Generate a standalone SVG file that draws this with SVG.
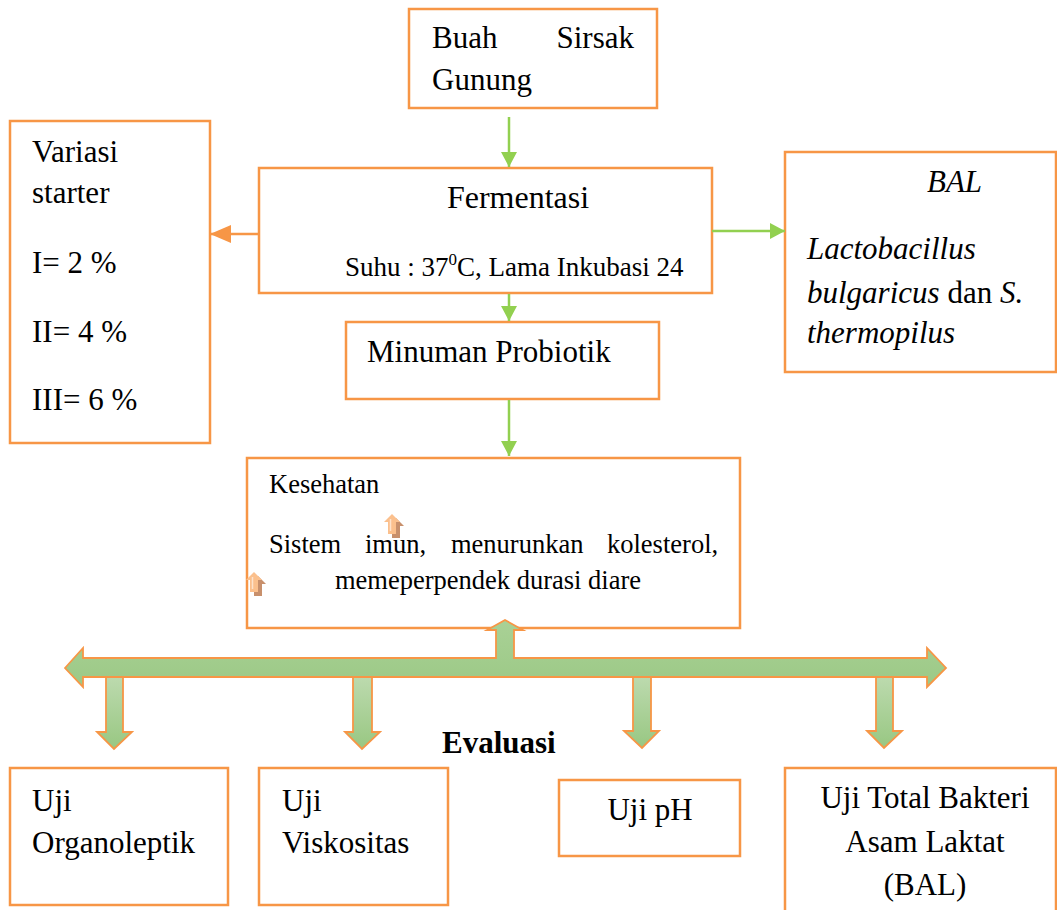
<svg xmlns="http://www.w3.org/2000/svg" width="1057" height="910" viewBox="0 0 1057 910">
<style>
.box{fill:#fff;stroke:#f79646;stroke-width:2.5}
.t{font-family:"Liberation Serif","Times New Roman",serif;font-size:31px;fill:#000}
.s{font-size:26.5px}
.i{font-style:italic}
.g{stroke:#92d050;stroke-width:2.5;fill:none}
.o{stroke:#f79646;stroke-width:2.5;fill:none}
.big{fill:url(#gh);stroke:#f79646;stroke-width:1.8;stroke-linejoin:miter}
.dn{fill:url(#gv);stroke:#f79646;stroke-width:1.8}
</style>
<defs>
<marker id="ag" markerUnits="userSpaceOnUse" markerWidth="16" markerHeight="16" refX="15" refY="8" orient="auto"><path d="M0,0 L15,8 L0,16 Z" fill="#92d050"/></marker>
<marker id="ao" markerUnits="userSpaceOnUse" markerWidth="22" markerHeight="18" refX="21" refY="9" orient="auto"><path d="M0,0 L21,9 L0,18 Z" fill="#f79646"/></marker>
<linearGradient id="gh" x1="0" y1="0" x2="0" y2="1"><stop offset="0" stop-color="#a9d196"/><stop offset="1" stop-color="#9cc986"/></linearGradient>
<linearGradient id="gv" x1="0" y1="0" x2="0" y2="1"><stop offset="0" stop-color="#bcdaae"/><stop offset="1" stop-color="#98c782"/></linearGradient>
<g id="ic"><path d="M4,4 l8,-8 l8,8 h-4 v12 h-8 v-12 z" fill="#c8906c"/><path d="M0,0 l8,-8 l8,8 h-4 v12 h-8 v-12 z" fill="#fbc08d"/><path d="M6.5,-3 v12" stroke="#fde3cc" stroke-width="1.5"/></g>
</defs>

<g id="buah">
<rect class="box" x="409" y="9" width="248" height="99"/>
<text class="t" x="432" y="48">Buah</text>
<text class="t" x="634" y="48" text-anchor="end">Sirsak</text>
<text class="t" x="432" y="90">Gunung</text>
</g>

<g id="fermentasi">
<rect class="box" x="259" y="168" width="453" height="125"/>
<text class="t" x="518" y="208" text-anchor="middle" style="font-size:32px">Fermentasi</text>
<text class="t" x="345" y="276" style="font-size:27px">Suhu : 37<tspan dy="-11" style="font-size:17px">0</tspan><tspan dy="11">C, Lama Inkubasi 24</tspan></text>
</g>

<g id="variasi">
<rect class="box" x="10" y="121" width="200" height="322"/>
<text class="t" x="32" y="162">Variasi</text>
<text class="t" x="32" y="203">starter</text>
<text class="t" x="32" y="273">I= 2 %</text>
<text class="t" x="32" y="342">II= 4 %</text>
<text class="t" x="32" y="410">III= 6 %</text>
</g>

<g id="bal">
<rect class="box" x="785" y="152" width="271" height="220"/>
<text class="t i" x="927" y="192">BAL</text>
<text class="t i" x="807" y="259">Lactobacillus</text>
<text class="t" x="807" y="303"><tspan class="i">bulgaricus</tspan> dan <tspan class="i">S.</tspan></text>
<text class="t i" x="807" y="343">thermopilus</text>
</g>

<g id="minuman">
<rect class="box" x="346" y="322" width="313" height="77"/>
<text class="t" x="367" y="362">Minuman Probiotik</text>
</g>

<g id="kesehatan">
<rect class="box" x="247" y="458" width="493" height="170"/>
<text class="t s" x="269" y="493">Kesehatan</text>
<text class="t s" y="553"><tspan x="269">Sistem</tspan><tspan x="365">imun,</tspan><tspan x="451">menurunkan</tspan><tspan x="607">kolesterol,</tspan></text>
<text class="t s" x="488" y="589" text-anchor="middle">memeperpendek durasi diare</text>
<use href="#ic" x="384" y="522"/>
<use href="#ic" x="246" y="580"/>
</g>

<g id="evaluasi">
<text class="t" x="442" y="753" style="font-weight:bold">Evaluasi</text>
</g>

<g id="organoleptik">
<rect class="box" x="10" y="768" width="218" height="137"/>
<text class="t" x="32" y="811">Uji</text>
<text class="t" x="32" y="853">Organoleptik</text>
</g>

<g id="viskositas">
<rect class="box" x="259" y="768" width="189" height="137"/>
<text class="t" x="282" y="811">Uji</text>
<text class="t" x="282" y="853">Viskositas</text>
</g>

<g id="ph">
<rect class="box" x="559" y="780" width="181" height="76"/>
<text class="t" x="650" y="820" text-anchor="middle">Uji pH</text>
</g>

<g id="bakteri">
<rect class="box" x="785" y="768" width="271" height="150"/>
<text class="t" x="925" y="808" text-anchor="middle">Uji Total Bakteri</text>
<text class="t" x="925" y="852" text-anchor="middle">Asam Laktat</text>
<text class="t" x="925" y="895" text-anchor="middle">(BAL)</text>
</g>

<g id="connectors">
<line class="g" x1="509" y1="117" x2="509" y2="167" marker-end="url(#ag)"/>
<line class="o" x1="259" y1="234" x2="210" y2="234" marker-end="url(#ao)"/>
<line class="g" x1="712" y1="231" x2="785" y2="231" marker-end="url(#ag)"/>
<line class="g" x1="509" y1="294" x2="509" y2="321" marker-end="url(#ag)"/>
<line class="g" x1="509" y1="400" x2="509" y2="456" marker-end="url(#ag)"/>
<path class="big" d="M65,668 L83,648 L83,658 L496,658 L496,630 L487,630 L505,620 L523,630 L514,630 L514,658 L927,658 L927,648 L946,668 L927,687 L927,677 L83,677 L83,687 Z"/>
<path class="dn" d="M106,677 H123 V732 H132 L114,749 L97,732 H106 Z"/>
<path class="dn" d="M353,677 H372 V732 H380 L362,749 L345,732 H353 Z"/>
<path class="dn" d="M633,677 H651 V731 H659 L642,748 L624,731 H633 Z"/>
<path class="dn" d="M876,677 H893 V731 H902 L884,748 L867,731 H876 Z"/>
</g>
</svg>
